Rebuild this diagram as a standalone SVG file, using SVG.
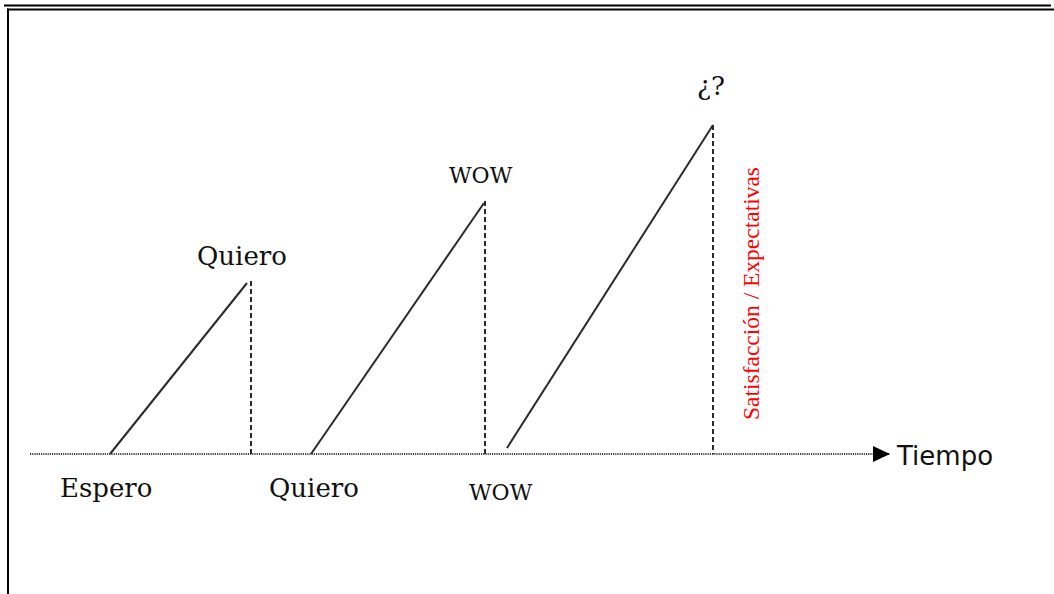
<svg xmlns="http://www.w3.org/2000/svg" width="1054" height="594" viewBox="0 0 1054 594">
<style>
.lbl{font-family:"DejaVu Serif","Liberation Serif",serif;fill:#111}
.diag{stroke:#2a2a2a;stroke-width:2;fill:none}
.dash{stroke:#2a2a2a;stroke-width:2;stroke-dasharray:5,3;fill:none}
.axis{stroke:#444;stroke-width:1.8;stroke-dasharray:1.2,1;fill:none}
</style>
<defs>
<marker id="arr" markerWidth="18" markerHeight="16" refX="17" refY="8" orient="auto" markerUnits="userSpaceOnUse">
<path d="M0,0 L17,8 L0,16 Z" fill="#000"/>
</marker>
</defs>
<rect width="1054" height="594" fill="#fff"/>
<g id="frame">
<line x1="4" y1="5.5" x2="1051" y2="5.5" stroke="#000" stroke-width="2"/>
<line x1="7" y1="9.5" x2="1054" y2="9.5" stroke="#000" stroke-width="2"/>
<line x1="8" y1="8.5" x2="8" y2="594" stroke="#000" stroke-width="2"/>
</g>
<g id="connectors">
<line class="axis" x1="30" y1="454" x2="890" y2="454" marker-end="url(#arr)"/>
<line class="diag" x1="110" y1="454" x2="247" y2="283"/>
<line class="dash" x1="251" y1="281" x2="251" y2="454"/>
<line class="diag" x1="311" y1="454" x2="484" y2="203"/>
<line class="dash" x1="485" y1="201" x2="485" y2="454"/>
<line class="diag" x1="507" y1="448" x2="713" y2="125"/>
<line class="dash" x1="713" y1="125" x2="713" y2="454"/>
</g>
<g id="label-espero"><text class="lbl" x="60" y="497" font-size="26">Espero</text></g>
<g id="label-quiero-bottom"><text class="lbl" x="269" y="497" font-size="26">Quiero</text></g>
<g id="label-wow-bottom"><text class="lbl" x="469" y="500" font-size="22">WOW</text></g>
<g id="label-quiero-top"><text class="lbl" x="197" y="265" font-size="26">Quiero</text></g>
<g id="label-wow-top"><text class="lbl" x="449" y="183" font-size="22">WOW</text></g>
<g id="label-question"><text class="lbl" x="697" y="95" font-size="26">¿?</text></g>
<g id="label-tiempo"><text x="897" y="465" font-size="26" font-family="DejaVu Sans, sans-serif" fill="#111">Tiempo</text></g>
<g id="label-satisfaccion"><text transform="translate(759,420) rotate(-90)" font-size="23" font-family="Liberation Serif, serif" fill="#ff0000" textLength="253" lengthAdjust="spacingAndGlyphs">Satisfacción / Expectativas</text></g>
</svg>
